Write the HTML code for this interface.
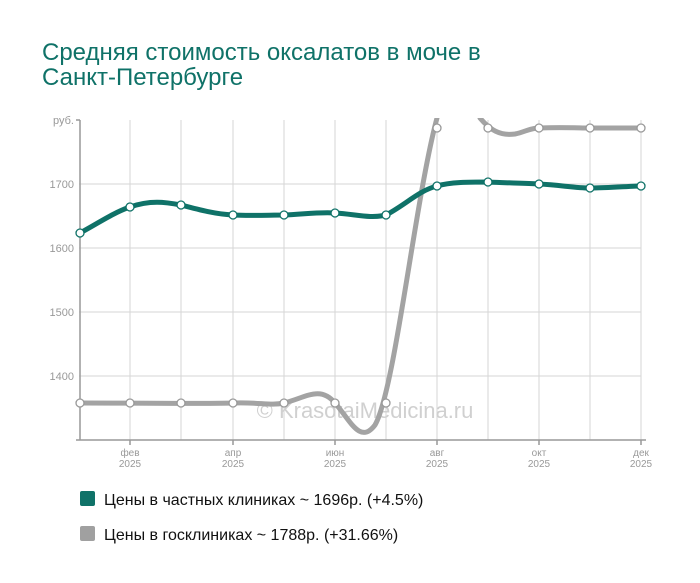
<!DOCTYPE html>
<html><head><meta charset="utf-8"><style>
html,body{margin:0;padding:0;background:#fff;}
svg{display:block;font-family:"Liberation Sans",sans-serif;}
</style></head><body>
<svg width="700" height="583" viewBox="0 0 700 583">
<text x="42" y="60" font-size="24" fill="#0f7268">Средняя стоимость оксалатов в моче в</text>
<text x="42" y="85" font-size="24" fill="#0f7268">Санкт-Петербурге</text>
<g stroke="#d6d6d6" stroke-width="1">
<line x1="79" y1="184" x2="641" y2="184"/><line x1="79" y1="248" x2="641" y2="248"/>
<line x1="79" y1="312" x2="641" y2="312"/><line x1="79" y1="376" x2="641" y2="376"/>
<line x1="130" y1="120" x2="130" y2="440"/><line x1="181" y1="120" x2="181" y2="440"/>
<line x1="233" y1="120" x2="233" y2="440"/><line x1="284" y1="120" x2="284" y2="440"/>
<line x1="335" y1="120" x2="335" y2="440"/><line x1="386" y1="120" x2="386" y2="440"/>
<line x1="437" y1="120" x2="437" y2="440"/><line x1="488" y1="120" x2="488" y2="440"/>
<line x1="539" y1="120" x2="539" y2="440"/><line x1="590" y1="120" x2="590" y2="440"/>
<line x1="641" y1="120" x2="641" y2="440"/>
</g>
<g stroke="#999" stroke-width="1.5">
<line x1="80" y1="120" x2="80" y2="440"/><line x1="76" y1="440" x2="646" y2="440"/>
<line x1="76" y1="120" x2="80" y2="120"/>
<line x1="130" y1="440" x2="130" y2="445"/><line x1="233" y1="440" x2="233" y2="445"/>
<line x1="335" y1="440" x2="335" y2="445"/><line x1="437" y1="440" x2="437" y2="445"/>
<line x1="539" y1="440" x2="539" y2="445"/><line x1="641" y1="440" x2="641" y2="445"/>
</g>
<g font-size="11" fill="#999" text-anchor="end">
<text x="74" y="124">руб.</text><text x="74" y="188">1700</text><text x="74" y="252">1600</text>
<text x="74" y="316">1500</text><text x="74" y="380">1400</text>
</g>
<g font-size="10" fill="#999" text-anchor="middle">
<text x="130" y="456">фев</text><text x="130" y="467">2025</text>
<text x="233" y="456">апр</text><text x="233" y="467">2025</text>
<text x="335" y="456">июн</text><text x="335" y="467">2025</text>
<text x="437" y="456">авг</text><text x="437" y="467">2025</text>
<text x="539" y="456">окт</text><text x="539" y="467">2025</text>
<text x="641" y="456">дек</text><text x="641" y="467">2025</text>
</g>
<text x="365" y="418" font-size="22" fill="#d0d0d0" text-anchor="middle">© KrasotaiMedicina.ru</text>
<defs><clipPath id="c"><rect x="80" y="118" width="570" height="322"/></clipPath></defs>
<g clip-path="url(#c)" fill="none" stroke-linecap="round">
<path d="M80,403 C150,403 200,404 233,403 C260,402 270,406 284,403 C305,398 320,385 335,403 C350,420 360,445 375,425 C395,390 415,200 437,118" stroke="#a3a3a3" stroke-width="5"/>
<path d="M480,118 C490,130 500,136 515,134 C525,132 530,128 539,128 C560,127 580,128 590,128 C610,128 630,128 641,128" stroke="#a3a3a3" stroke-width="5"/>
<path d="M80,233 C100,222 115,212 130,207 C150,200 165,202 181,205 C200,210 215,214 233,215 C250,216 270,215 284,215 C305,214 320,212 335,213 C355,214 370,219 386,215 C405,205 420,190 437,186 C450,182 470,182 488,182 C505,183 525,183 539,184 C560,185 575,188 590,188 C610,188 630,186 641,186" stroke="#0f7268" stroke-width="5"/>
</g>
<g fill="#fff" stroke="#999" stroke-width="1.3">
<circle cx="80" cy="403" r="4"/><circle cx="130" cy="403" r="4"/><circle cx="181" cy="403" r="4"/>
<circle cx="233" cy="403" r="4"/><circle cx="284" cy="403" r="4"/><circle cx="335" cy="403" r="4"/>
<circle cx="386" cy="403" r="4"/><circle cx="437" cy="128" r="4"/><circle cx="488" cy="128" r="4"/>
<circle cx="539" cy="128" r="4"/><circle cx="590" cy="128" r="4"/><circle cx="641" cy="128" r="4"/>
</g>
<g fill="#fff" stroke="#0f7268" stroke-width="1.3">
<circle cx="80" cy="233" r="4"/><circle cx="130" cy="207" r="4"/><circle cx="181" cy="205" r="4"/>
<circle cx="233" cy="215" r="4"/><circle cx="284" cy="215" r="4"/><circle cx="335" cy="213" r="4"/>
<circle cx="386" cy="215" r="4"/><circle cx="437" cy="186" r="4"/><circle cx="488" cy="182" r="4"/>
<circle cx="539" cy="184" r="4"/><circle cx="590" cy="188" r="4"/><circle cx="641" cy="186" r="4"/>
</g>
<rect x="80" y="491" width="15" height="15" rx="2" fill="#0f7268"/>
<rect x="80" y="526" width="15" height="15" rx="2" fill="#a0a0a0"/>
<text x="104" y="505" font-size="16" fill="#111">Цены в частных клиниках ~ 1696р. (+4.5%)</text>
<text x="104" y="540" font-size="16" fill="#111">Цены в госклиниках ~ 1788р. (+31.66%)</text>
</svg>
</body></html>
